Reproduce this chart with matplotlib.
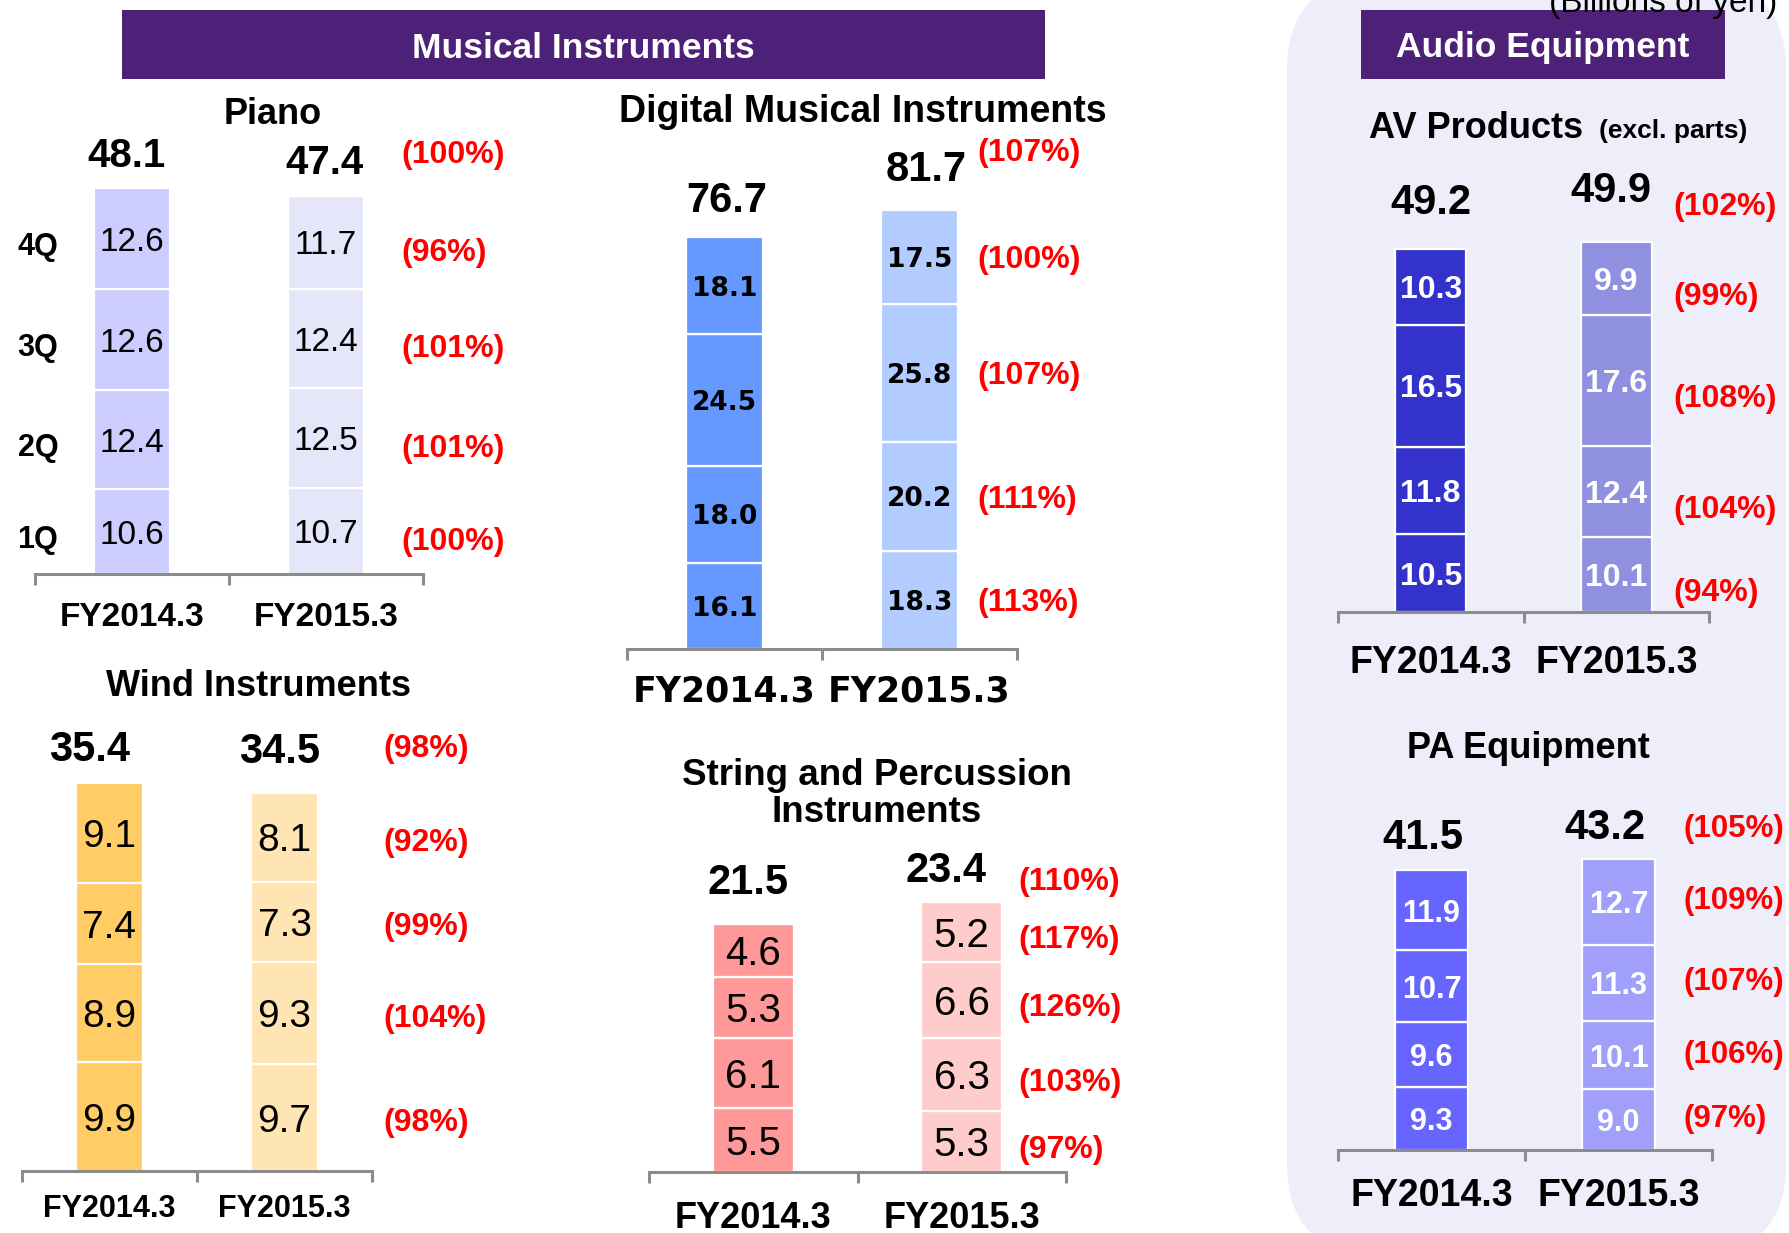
import matplotlib
matplotlib.use("Agg")
import matplotlib.pyplot as plt
from matplotlib.patches import FancyBboxPatch, Rectangle
from matplotlib.transforms import Affine2D, blended_transform_factory

plt.rcParams['font.family'] = ['Liberation Sans', 'DejaVu Sans']

W, H = 1789, 1233

# ---- sales by quarter, billions of yen ----
years = ["FY2014.3", "FY2015.3"]
quarters = ["1Q", "2Q", "3Q", "4Q"]

piano_fy14 = [10.6, 12.4, 12.6, 12.6]
piano_fy15 = [10.7, 12.5, 12.4, 11.7]
piano_totals = [48.1, 47.4]
piano_yoy = [100, 101, 101, 96]
piano_yoy_total = 100

digital_fy14 = [16.1, 18.0, 24.5, 18.1]
digital_fy15 = [18.3, 20.2, 25.8, 17.5]
digital_totals = [76.7, 81.7]
digital_yoy = [113, 111, 107, 100]
digital_yoy_total = 107

wind_fy14 = [9.9, 8.9, 7.4, 9.1]
wind_fy15 = [9.7, 9.3, 7.3, 8.1]
wind_totals = [35.4, 34.5]
wind_yoy = [98, 104, 99, 92]
wind_yoy_total = 98

string_fy14 = [5.5, 6.1, 5.3, 4.6]
string_fy15 = [5.3, 6.3, 6.6, 5.2]
string_totals = [21.5, 23.4]
string_yoy = [97, 103, 126, 117]
string_yoy_total = 110

av_fy14 = [10.5, 11.8, 16.5, 10.3]
av_fy15 = [10.1, 12.4, 17.6, 9.9]
av_totals = [49.2, 49.9]
av_yoy = [94, 104, 108, 99]
av_yoy_total = 102

pa_fy14 = [9.3, 9.6, 10.7, 11.9]
pa_fy15 = [9.0, 10.1, 11.3, 12.7]
pa_totals = [41.5, 43.2]
pa_yoy = [97, 106, 107, 109]
pa_yoy_total = 105

# ---- styling ----
BANNER = '#4D2177'
PANEL_BG = '#EEEEFB'
AXIS_GREY = '#8C8C8C'
RED = '#FF0000'
PT = 0.72  # points per pixel at 100 dpi

fig = plt.figure(figsize=(W / 100, H / 100), dpi=100)
fig.patch.set_facecolor('white')
pix = Affine2D().scale(1 / W, 1 / H) + fig.transFigure


def box(x0, y0, x1, y1, **kw):
    return Rectangle((x0, H - y1), x1 - x0, y1 - y0, transform=pix, **kw)


# Audio equipment backdrop
fig.add_artist(FancyBboxPatch((1287, H - 1254), 1786 - 1287, 1254 + 20,
                              boxstyle="round,pad=0,rounding_size=90",
                              transform=pix, facecolor=PANEL_BG,
                              edgecolor='none', zorder=0))

# Section banners
fig.add_artist(box(122, 10, 1045, 79, facecolor=BANNER, edgecolor='none', zorder=1))
fig.add_artist(box(1361, 10, 1725, 79, facecolor=BANNER, edgecolor='none', zorder=1))
fig.text(583 / W, 1 - 49 / H, "Musical Instruments", color='white',
         fontsize=25.5, fontweight='bold', ha='center', va='center', zorder=2)
fig.text(1543 / W, 1 - 48 / H, "Audio Equipment", color='white',
         fontsize=25.5, fontweight='bold', ha='center', va='center', zorder=2)
fig.text(1663 / W, 1 - 12 / H, "(Billions of yen)", fontsize=24,
         ha='center', va='baseline')


def title(x, y, s, size=26, spacing=1.05):
    fig.text(x / W, 1 - y / H, s, fontsize=size, fontweight='bold',
             ha='center', va='center', linespacing=spacing)


def panel(fy14, fy15, totals, yoy, yoy_total, colors, lay, qlabels=False):
    x0, x1, base, ppu = lay['x0'], lay['x1'], lay['base'], lay['ppu']
    ymax = max(totals) * 1.6
    ax = fig.add_axes([x0 / W, 1 - base / H, (x1 - x0) / W, ymax * ppu / H])
    ax.set_xlim(-0.5, 1.5)
    ax.set_ylim(0, ymax)
    ax.patch.set_visible(False)
    for s in ('top', 'left', 'right'):
        ax.spines[s].set_visible(False)
    ax.spines['bottom'].set_color(AXIS_GREY)
    ax.spines['bottom'].set_linewidth(2.2)
    ax.set_xticks([-0.5, 0.5, 1.5])
    ax.set_xticklabels([])
    ax.tick_params(axis='x', length=8, width=2.2, color=AXIS_GREY, direction='out')
    ax.set_yticks([])

    seg_font = dict(fontsize=lay['seg_size'], fontweight=lay['seg_weight'],
                    color=lay['seg_color'])
    if lay.get('seg_family'):
        seg_font['family'] = lay['seg_family']
    pct_size = lay.get('pct_size', 23)

    tops = []
    centers = []
    for i, (vals, col) in enumerate(zip([fy14, fy15], colors)):
        bottom = 0.0
        cs = []
        for v in vals:
            ax.bar(i, v, bottom=bottom, width=lay['bw'], color=col,
                   edgecolor='white', linewidth=1.6)
            ax.text(i, bottom + v / 2, f"{v:.1f}", ha='center',
                    va='center_baseline', **seg_font)
            cs.append(bottom + v / 2)
            bottom += v
        tops.append(bottom)
        centers.append(cs)
        ax.annotate(f"{totals[i]:.1f}", xy=(i, bottom),
                    xytext=(lay['tot_dx'][i] * PT, lay['tot_off'][i] * PT),
                    textcoords='offset points', annotation_clip=False,
                    ha='center', va='center_baseline', fontsize=lay['tot_size'],
                    fontweight='bold')

    # year-on-year ratios
    ax.annotate(f"({yoy_total}%)", xy=(lay['pct_x'], tops[1]),
                xytext=(0, (lay['tot_off'][1] - lay['tot_pct_dy']) * PT),
                textcoords='offset points', annotation_clip=False,
                ha='left', va='center_baseline',
                fontsize=pct_size, fontweight='bold', color=RED)
    for p, c in zip(yoy, centers[1]):
        ax.annotate(f"({p}%)", xy=(lay['pct_x'], c),
                    xytext=(0, -lay['pct_nudge'] * PT), textcoords='offset points',
                    annotation_clip=False, ha='left', va='center_baseline',
                    fontsize=pct_size, fontweight='bold', color=RED)

    if qlabels:
        for q, c in zip(quarters, centers[0]):
            ax.annotate(q, xy=(-0.485, c), xytext=(0, -5 * PT),
                        textcoords='offset points', annotation_clip=False,
                        ha='center', va='center_baseline', fontsize=22,
                        fontweight='bold')

    tr = blended_transform_factory(ax.transData, fig.transFigure)
    fy_font = dict(fontsize=lay['fy_size'], fontweight='bold')
    if lay.get('fy_family'):
        fy_font['family'] = lay['fy_family']
    for i, y in enumerate(years):
        ax.text(i, 1 - lay['fy_y'] / H, y, transform=tr, ha='center',
                va='center', **fy_font)
    return ax


# ---- Musical instruments ----
title(273, 114, "Piano")
panel(piano_fy14, piano_fy15, piano_totals, piano_yoy, piano_yoy_total,
      ['#CCCCFF', '#E6E6FB'],
      dict(x0=35, x1=423, base=574, ppu=8.0, bw=0.39, tot_off=(36, 37),
           tot_dx=(-6, -2), tot_size=29, pct_x=1.387, pct_nudge=7,
           tot_pct_dy=-7, fy_y=617, fy_size=24, seg_size=24,
           seg_weight='normal', seg_color='black'),
      qlabels=True)

title(863, 112, "Digital Musical Instruments", size=27)
panel(digital_fy14, digital_fy15, digital_totals, digital_yoy, digital_yoy_total,
      ['#6699FF', '#B3CCFF'],
      dict(x0=627, x1=1017, base=649, ppu=5.37, bw=0.39, tot_off=(41, 44),
           tot_dx=(2, 7), tot_size=30, pct_x=1.295, pct_nudge=0,
           tot_pct_dy=-16, fy_y=691, fy_size=25, fy_family=['DejaVu Sans'],
           seg_size=19, seg_weight='bold', seg_color='black',
           seg_family=['DejaVu Sans']))

title(258, 687, "Wind Instruments", size=26)
panel(wind_fy14, wind_fy15, wind_totals, wind_yoy, wind_yoy_total,
      ['#FFCC66', '#FFE5B3'],
      dict(x0=22, x1=372, base=1171, ppu=11.0, bw=0.385, tot_off=(37, 45),
           tot_dx=(-20, -5), tot_size=30, pct_x=1.563, pct_nudge=2,
           tot_pct_dy=-2, fy_y=1209, fy_size=22, seg_size=28,
           seg_weight='normal', seg_color='black'))

title(877, 794, "String and Percussion\nInstruments", size=26.5)
panel(string_fy14, string_fy15, string_totals, string_yoy, string_yoy_total,
      ['#FF9999', '#FFCCCC'],
      dict(x0=649, x1=1066, base=1172, ppu=11.55, bw=0.39, tot_off=(45, 35),
           tot_dx=(-5, -16), tot_size=30, pct_x=1.27, pct_nudge=5,
           tot_pct_dy=12, fy_y=1218, fy_size=26, seg_size=29,
           seg_weight='normal', seg_color='black'))

# ---- Audio equipment ----
fig.text(1369 / W, 1 - 138 / H, "AV Products", fontsize=26, fontweight='bold',
         ha='left', va='baseline')
fig.text(1599 / W, 1 - 138 / H, "(excl. parts)", fontsize=19, fontweight='bold',
         ha='left', va='baseline')
panel(av_fy14, av_fy15, av_totals, av_yoy, av_yoy_total,
      ['#3333CC', '#9090E0'],
      dict(x0=1338, x1=1709, base=612, ppu=7.4, bw=0.385, tot_off=(50, 56),
           tot_dx=(0, -5), tot_size=30, pct_x=1.306, pct_nudge=15,
           tot_pct_dy=17, fy_y=663, fy_size=27, seg_size=23,
           seg_weight='bold', seg_color='white'))

title(1528, 748, "PA Equipment")
panel(pa_fy14, pa_fy15, pa_totals, pa_yoy, pa_yoy_total,
      ['#6666FF', '#A0A0FA'],
      dict(x0=1338, x1=1712, base=1150, ppu=6.75, bw=0.39, tot_off=(36, 36),
           tot_dx=(-9, -14), tot_size=30, pct_x=1.345, pct_nudge=-4,
           tot_pct_dy=2, pct_size=22.5, fy_y=1196, fy_size=27, seg_size=22,
           seg_weight='bold', seg_color='white'))

fig.savefig("out.png", dpi=100)
